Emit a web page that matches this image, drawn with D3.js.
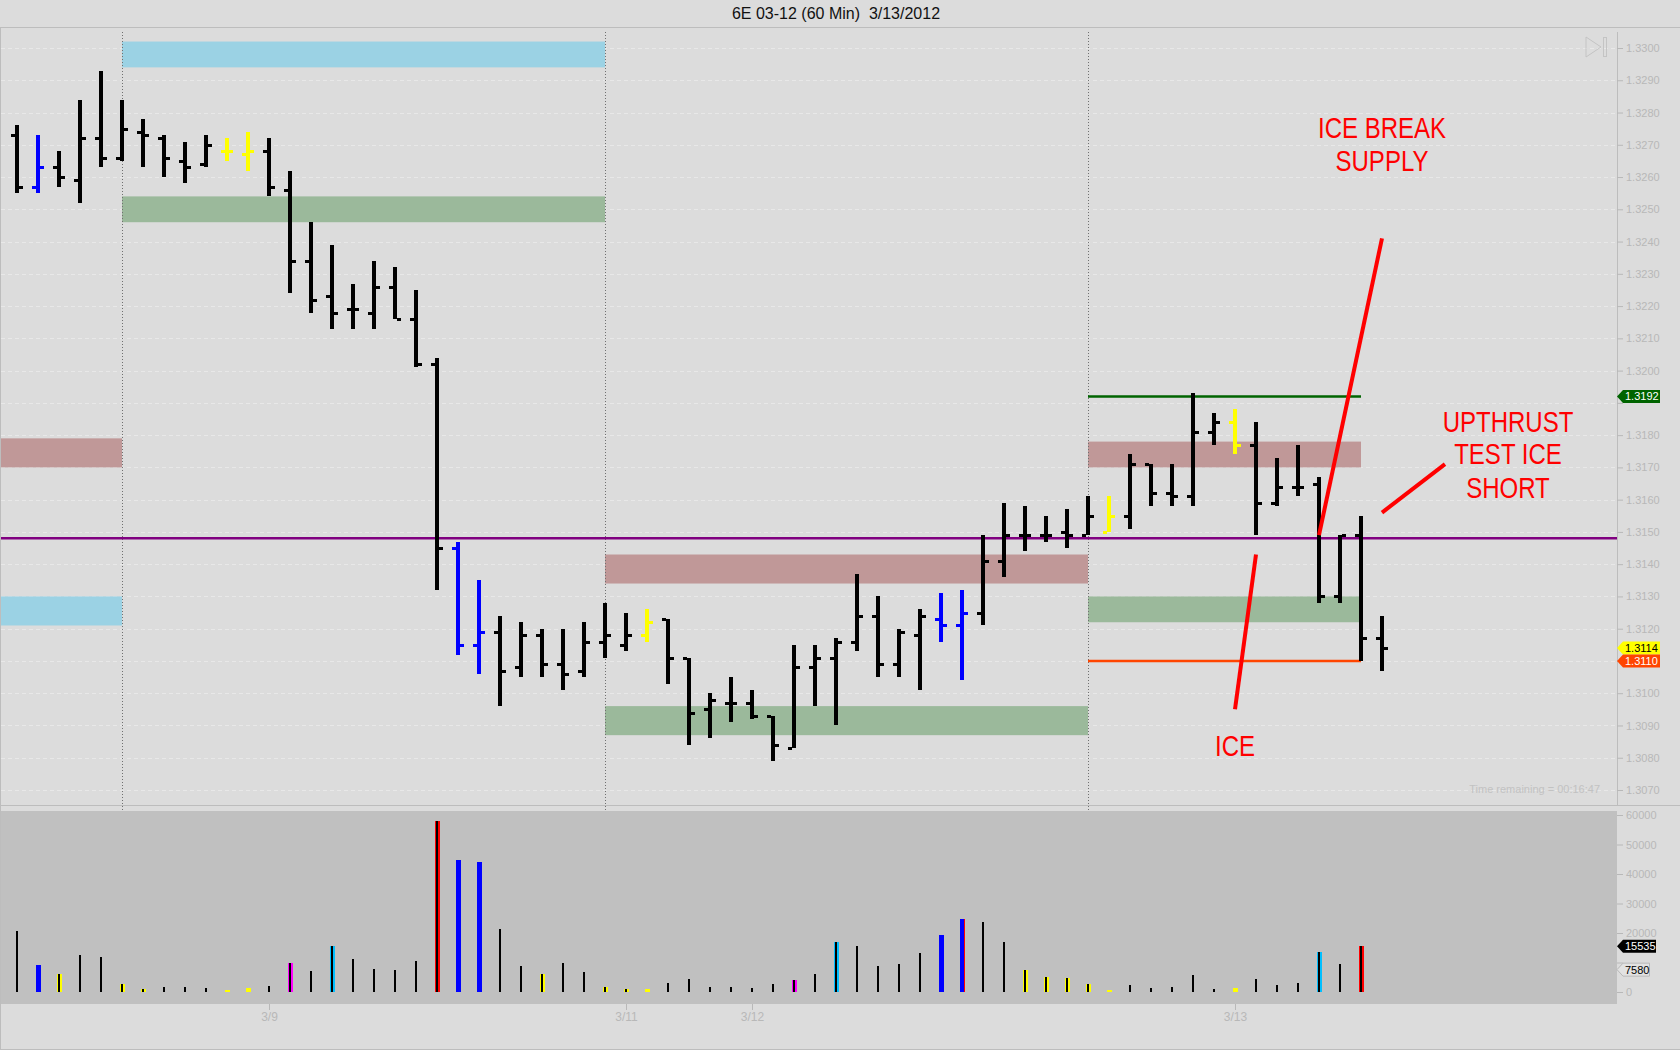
<!DOCTYPE html>
<html>
<head>
<meta charset="utf-8">
<script src="https://cdn.jsdelivr.net/npm/d3@7"></script>
<style>
  body { margin: 0; background: #dcdcdc; }
  svg { display: block; font-family: "Liberation Sans", Arial, sans-serif; }
</style>
</head>
<body>
<svg id="chart" width="1680" height="1050"></svg>
<script>
// 60 min bars, 6E 03-12
var opens = [
  1.3273, 1.3257, 1.3263, 1.3259, 1.3272, 1.3266, 1.3274, 1.3272, 1.3265, 1.3264,
  1.3268, 1.3267, 1.3268, 1.3256, 1.3234, 1.3223, 1.3219, 1.3218, 1.3226, 1.3216,
  1.3202, 1.3145, 1.3115, 1.3119, 1.3108, 1.3118, 1.3109, 1.3107, 1.3116, 1.3115,
  1.3118, 1.3123, 1.3111, 1.3095, 1.3097, 1.3097, 1.3093, 1.3083, 1.3108, 1.3111,
  1.3116, 1.3124, 1.3109, 1.3118, 1.3123, 1.3121, 1.3125, 1.3141, 1.3149, 1.3149,
  1.3150, 1.3149, 1.3150, 1.3155, 1.3171, 1.3162, 1.3161, 1.3181, 1.3184, 1.3177,
  1.3159, 1.3164, 1.3165, 1.3130, 1.3149, 1.3117
];
var highs = [
  1.3276, 1.3273, 1.3268, 1.3284, 1.3293, 1.3284, 1.3278, 1.3273, 1.3271, 1.3273,
  1.3272, 1.3274, 1.3272, 1.3262, 1.3246, 1.3239, 1.3227, 1.3234, 1.3232, 1.3225,
  1.3204, 1.3147, 1.3135, 1.3124, 1.3122, 1.3120, 1.3120, 1.3122, 1.3128, 1.3125,
  1.3126, 1.3123, 1.3111, 1.3100, 1.3105, 1.3101, 1.3093, 1.3115, 1.3115, 1.3117,
  1.3137, 1.3130, 1.3120, 1.3126, 1.3131, 1.3132, 1.3149, 1.3159, 1.3158, 1.3155,
  1.3157, 1.3161, 1.3161, 1.3174, 1.3171, 1.3171, 1.3193, 1.3187, 1.3188, 1.3184,
  1.3173, 1.3177, 1.3167, 1.3149, 1.3155, 1.3124
];
var lows = [
  1.3255, 1.3255, 1.3257, 1.3252, 1.3263, 1.3265, 1.3263, 1.3260, 1.3258, 1.3263,
  1.3265, 1.3262, 1.3254, 1.3224, 1.3218, 1.3213, 1.3213, 1.3213, 1.3216, 1.3201,
  1.3132, 1.3112, 1.3106, 1.3096, 1.3105, 1.3105, 1.3101, 1.3105, 1.3111, 1.3113,
  1.3116, 1.3103, 1.3084, 1.3086, 1.3091, 1.3092, 1.3079, 1.3083, 1.3096, 1.3090,
  1.3113, 1.3105, 1.3105, 1.3101, 1.3116, 1.3104, 1.3121, 1.3136, 1.3144, 1.3147,
  1.3145, 1.3149, 1.3150, 1.3151, 1.3158, 1.3158, 1.3158, 1.3177, 1.3174, 1.3149,
  1.3158, 1.3161, 1.3128, 1.3128, 1.3110, 1.3107
];
var closes = [
  1.3257, 1.3263, 1.3260, 1.3272, 1.3266, 1.3275, 1.3273, 1.3266, 1.3263, 1.3270,
  1.3268, 1.3268, 1.3257, 1.3234, 1.3222, 1.3218, 1.3219, 1.3226, 1.3216, 1.3202,
  1.3145, 1.3115, 1.3119, 1.3107, 1.3118, 1.3109, 1.3106, 1.3116, 1.3118, 1.3118,
  1.3122, 1.3111, 1.3094, 1.3098, 1.3097, 1.3093, 1.3084, 1.3108, 1.3111, 1.3116,
  1.3124, 1.3109, 1.3119, 1.3124, 1.3121, 1.3125, 1.3141, 1.3149, 1.3149, 1.3149,
  1.3149, 1.3155, 1.3155, 1.3171, 1.3162, 1.3161, 1.3181, 1.3184, 1.3177, 1.3159,
  1.3164, 1.3164, 1.3130, 1.3149, 1.3117, 1.3114
];
var blueBars = [1, 21, 22, 44, 45];
var yellowBars = [10, 11, 30, 52, 58];

var volumes = [
  20700, 9150, 6100, 12550, 11850, 2700, 1000, 1700, 1700, 1350,
  700, 1350, 2050, 9850, 7100, 15600, 11200, 7800, 7450, 10500,
  58000, 44750, 44050, 21350, 8800, 6100, 9850, 6800, 1700, 1000,
  1000, 3050, 4400, 1700, 1700, 1350, 2700, 4050, 6100, 16950,
  15600, 8800, 9500, 13200, 19300, 24750, 23750, 16950, 7450, 5100,
  4750, 2700, 700, 2350, 1350, 1700, 5750, 1000, 1350, 4400,
  2350, 3050, 13550, 9500, 15535, null
];
var volTypes = [
  "k", "b", "yk", "k", "k", "yk", "yk", "k", "k", "k",
  "y", "y", "k", "mk", "k", "ck", "k", "k", "k", "k",
  "rk", "b", "b", "k", "k", "yk", "k", "k", "yk", "yk",
  "y", "k", "k", "k", "k", "k", "k", "mk", "k", "ck",
  "k", "k", "k", "k", "b", "br", "k", "k", "yk", "yk",
  "yk", "yk", "y", "k", "k", "k", "k", "k", "y", "k",
  "k", "k", "ck", "k", "rk", "k"
];

// session starts and date labels
var sessionStarts = [5, 28, 51];
var dateBars = [12, 29, 35, 58];
var dateLabels = ["3/9", "3/11", "3/12", "3/13"];

// supply / demand zones
var zoneFrom = [-1, -1, 5, 5, 28, 28, 51, 51];
var zoneTo = [5, 5, 28, 28, 51, 51, 64, 64];
var zoneLow = [1.3170, 1.3121, 1.3294, 1.3246, 1.3134, 1.3087, 1.3170, 1.3122];
var zoneHigh = [1.3179, 1.3130, 1.3302, 1.3254, 1.3143, 1.3096, 1.3178, 1.3130];
var zoneKind = ["red", "blue", "blue", "green", "red", "green", "red", "green"];

var levelPrices = [1.3192, 1.3110];
var levelColors = ["#006400", "#ff4500"];
var levelFrom = 51, levelTo = 64;
var midLine = 1.3148;

var priceTags = [1.3192, 1.3114, 1.3110];
var priceTagFill = ["#006400", "#ffff00", "#ff4500"];
var priceTagText = ["#ffffff", "#000000", "#ffffff"];
var volTags = [15535, 7580];

var noteText = ["ICE BREAK", "SUPPLY", "UPTHRUST", "TEST ICE", "SHORT", "ICE"];
var noteBar = [65, 65, 71, 71, 71, 58];
var notePrice = [1.3272, 1.3262, 1.3181, 1.3171, 1.31605, 1.30805];
var arrowFrom = [[62, 1.3149], [59, 1.3143], [65, 1.3156]];
var arrowTo = [[65, 1.3241], [58, 1.3095], [68, 1.3171]];

var priceTicks = d3.range(0, 24).map(function (i) { return +(1.3070 + i * 0.001).toFixed(4); });
var volTicks = [0, 10000, 20000, 30000, 40000, 50000, 60000];

// layout
var axisX = 1617;
var priceTop = 32, priceBottom = 805, volTop = 811, volBottom = 1004;

var svg = d3.select("#chart");
var x = d3.scaleLinear().domain([0, 65]).range([17, 1382]);
var y = d3.scaleLinear().domain([1.3070, 1.3300]).range([790, 48]);
var yv = d3.scaleLinear().domain([0, 60000]).range([992, 815]);

var zoneColor = { red: "#c09898", blue: "#9bd2e4", green: "#9bb99b" };

// backgrounds and frames
svg.append("rect").attr("width", 1680).attr("height", 1050).attr("fill", "#dcdcdc");
svg.append("rect")
  .attr("x", 0).attr("y", volTop)
  .attr("width", axisX).attr("height", volBottom - volTop)
  .attr("fill", "#c0c0c0");

var frame = svg.append("g").attr("stroke", "#bdbdbd").attr("stroke-width", 1).attr("shape-rendering", "crispEdges");
frame.append("line").attr("x1", 0).attr("x2", 1680).attr("y1", 27.5).attr("y2", 27.5);
frame.append("line").attr("x1", 0).attr("x2", 1680).attr("y1", priceBottom + 0.5).attr("y2", priceBottom + 0.5);
frame.append("line").attr("x1", 0).attr("x2", 1680).attr("y1", 1049.5).attr("y2", 1049.5);
frame.append("line").attr("x1", 0.5).attr("x2", 0.5).attr("y1", 27).attr("y2", 1050);
frame.append("line").attr("x1", axisX + 0.5).attr("x2", axisX + 0.5).attr("y1", priceTop).attr("y2", priceBottom);

// grid
svg.append("g")
  .selectAll("line")
  .data(priceTicks)
  .join("line")
  .attr("x1", 1).attr("x2", axisX)
  .attr("y1", function (d) { return Math.round(y(d)) + 0.5; })
  .attr("y2", function (d) { return Math.round(y(d)) + 0.5; })
  .attr("stroke", "#e8e8e8")
  .attr("stroke-dasharray", "4,3")
  .attr("shape-rendering", "crispEdges");

// zones
svg.append("g")
  .selectAll("rect")
  .data(zoneKind)
  .join("rect")
  .attr("x", function (d, i) { return Math.max(1, x(zoneFrom[i])); })
  .attr("width", function (d, i) { return x(zoneTo[i]) - Math.max(1, x(zoneFrom[i])); })
  .attr("y", function (d, i) { return y(zoneHigh[i]); })
  .attr("height", function (d, i) { return y(zoneLow[i]) - y(zoneHigh[i]); })
  .attr("fill", function (d) { return zoneColor[d]; });

// session separators
svg.append("g")
  .selectAll("line")
  .data(sessionStarts)
  .join("line")
  .attr("x1", function (d) { return Math.round(x(d)) + 0.5; })
  .attr("x2", function (d) { return Math.round(x(d)) + 0.5; })
  .attr("y1", priceTop).attr("y2", volTop)
  .attr("stroke", "#707070")
  .attr("stroke-dasharray", "1,2")
  .attr("shape-rendering", "crispEdges");

// levels
svg.append("line")
  .attr("x1", 1).attr("x2", axisX)
  .attr("y1", y(midLine)).attr("y2", y(midLine))
  .attr("stroke", "#800080").attr("stroke-width", 2.5);

svg.append("g")
  .selectAll("line")
  .data(levelPrices)
  .join("line")
  .attr("x1", x(levelFrom)).attr("x2", x(levelTo))
  .attr("y1", function (d) { return y(d); })
  .attr("y2", function (d) { return y(d); })
  .attr("stroke", function (d, i) { return levelColors[i]; })
  .attr("stroke-width", 2.5);

// price bars
function barColor(i) {
  if (blueBars.indexOf(i) >= 0) return "#0000ff";
  if (yellowBars.indexOf(i) >= 0) return "#ffff00";
  return "#000000";
}

var bars = svg.append("g")
  .attr("shape-rendering", "crispEdges")
  .selectAll("g")
  .data(opens)
  .join("g")
  .attr("fill", function (d, i) { return barColor(i); });

bars.append("rect")
  .attr("x", function (d, i) { return Math.round(x(i)) - 2; })
  .attr("width", 4)
  .attr("y", function (d, i) { return Math.round(y(highs[i])); })
  .attr("height", function (d, i) { return Math.max(3, Math.round(y(lows[i])) - Math.round(y(highs[i]))); });

bars.append("rect")
  .attr("x", function (d, i) { return Math.round(x(i)) - 6; })
  .attr("width", 4)
  .attr("y", function (d) { return Math.round(y(d)) - 1; })
  .attr("height", 3);

bars.append("rect")
  .attr("x", function (d, i) { return Math.round(x(i)) + 2; })
  .attr("width", 4)
  .attr("y", function (d, i) { return Math.round(y(closes[i])) - 1; })
  .attr("height", 3);

// volume bars
var volFill = { y: "#ffff00", b: "#0000ff", m: "#ff00ff", c: "#00bfff", r: "#ff0000" };
var vol = svg.append("g")
  .attr("shape-rendering", "crispEdges")
  .selectAll("g")
  .data(volumes)
  .join("g");

vol.each(function (d, i) {
  if (d == null) return;
  var g = d3.select(this);
  var t = volTypes[i];
  var cx = Math.round(x(i));
  var top = Math.round(yv(d));
  var h = Math.round(yv(0)) - top;
  if (t !== "k") {
    g.append("rect")
      .attr("x", cx - 2).attr("width", 5)
      .attr("y", top).attr("height", h)
      .attr("fill", volFill[t[0]]);
  }
  if (t === "br") {
    g.append("rect")
      .attr("x", cx + 2).attr("width", 1)
      .attr("y", top).attr("height", h)
      .attr("fill", "#ff0000");
  }
  if (t === "k" || (t.length === 2 && t[1] === "k")) {
    g.append("rect")
      .attr("x", cx - 1).attr("width", 2)
      .attr("y", top).attr("height", h)
      .attr("fill", "#000000");
  }
});

// axes
var tickGrey = "#b8b8b8";
function styleAxis(g) {
  g.select(".domain").remove();
  g.selectAll(".tick line").attr("stroke", tickGrey);
  g.selectAll(".tick text")
    .attr("fill", tickGrey)
    .style("font-size", "11px")
    .style("font-family", "\"Liberation Sans\", Arial, sans-serif");
}

// tick labels hidden under the value tags
function hideUnder(tagYs, scale) {
  return function (g) {
    g.selectAll(".tick text").filter(function (d) {
      return tagYs.some(function (ty) { return Math.abs(scale(d) - ty) < 12; });
    }).remove();
  };
}

svg.append("g")
  .attr("transform", "translate(" + axisX + ",0)")
  .call(d3.axisRight(y).tickValues(priceTicks).tickSize(6).tickPadding(3).tickFormat(d3.format(".4f")))
  .call(styleAxis)
  .call(hideUnder(priceTags.map(y), y));

svg.append("g")
  .attr("transform", "translate(" + axisX + ",0)")
  .call(d3.axisRight(yv).tickValues(volTicks).tickSize(6).tickPadding(3).tickFormat(d3.format("d")))
  .call(styleAxis)
  .call(hideUnder(volTags.map(yv), yv));

svg.append("g")
  .attr("transform", "translate(0," + volBottom + ")")
  .call(d3.axisBottom(x).tickValues(dateBars).tickSize(6).tickPadding(2)
    .tickFormat(function (d, i) { return dateLabels[i]; }))
  .call(styleAxis)
  .call(function (g) { g.selectAll(".tick text").style("font-size", "12px"); });

// right axis tags
function tag(yy, fill, stroke, textFill, label, right) {
  var g = svg.append("g");
  g.append("path")
    .attr("d", "M" + axisX + "," + yy + "L" + (axisX + 6) + "," + (yy - 6.5) + "H" + right + "V" + (yy + 6.5) + "H" + (axisX + 6) + "Z")
    .attr("fill", fill)
    .attr("stroke", stroke);
  g.append("text")
    .attr("x", axisX + 8).attr("y", yy)
    .attr("dy", "0.36em")
    .attr("fill", textFill)
    .style("font-size", "11px")
    .text(label);
}
priceTags.forEach(function (p, i) {
  tag(y(p), priceTagFill[i], "none", priceTagText[i], d3.format(".4f")(p), 1660);
});
tag(yv(volTags[0]), "#000000", "none", "#ffffff", volTags[0], 1656);
tag(yv(volTags[1]), "#e2e2e2", "#b8b8b8", "#000000", volTags[1], 1649.5);

// play icon
svg.append("path")
  .attr("d", "M1586,37L1601,47L1586,57Z")
  .attr("fill", "none").attr("stroke", "#c4c4c4").attr("stroke-width", 1);
svg.append("rect")
  .attr("x", 1603.5).attr("y", 37.5).attr("width", 3).attr("height", 19)
  .attr("fill", "none").attr("stroke", "#c4c4c4");

svg.append("text")
  .attr("x", 1600).attr("y", 793)
  .attr("text-anchor", "end")
  .attr("fill", "#c2c2c2")
  .style("font-size", "11px")
  .text("Time remaining = 00:16:47");

// title
svg.append("text")
  .attr("x", 836).attr("y", 19)
  .attr("text-anchor", "middle")
  .attr("fill", "#111111")
  .style("font-size", "16px")
  .style("white-space", "pre")
  .text("6E 03-12 (60 Min)  3/13/2012");

// annotations
svg.append("g")
  .selectAll("line")
  .data(arrowFrom)
  .join("line")
  .attr("x1", function (d) { return x(d[0]); })
  .attr("y1", function (d) { return y(d[1]); })
  .attr("x2", function (d, i) { return x(arrowTo[i][0]); })
  .attr("y2", function (d, i) { return y(arrowTo[i][1]); })
  .attr("stroke", "#ff0000")
  .attr("stroke-width", 4);

var notes = svg.append("g")
  .selectAll("text")
  .data(noteText)
  .join("text")
  .attr("x", function (d, i) { return x(noteBar[i]); })
  .attr("y", function (d, i) { return y(notePrice[i]); })
  .attr("text-anchor", "middle")
  .attr("fill", "#ff0000")
  .style("font-family", "\"Liberation Sans Narrow\", \"Arial Narrow\", sans-serif")
  .style("font-size", "30px")
  .text(function (d) { return d; });

// fall back to squeezed glyphs when no narrow face is installed
var w0 = notes.node().getComputedTextLength();
if (w0 > 140) {
  notes.each(function () {
    var w = this.getComputedTextLength();
    d3.select(this).attr("textLength", w * 0.8).attr("lengthAdjust", "spacingAndGlyphs");
  });
}
</script>
</body>
</html>
